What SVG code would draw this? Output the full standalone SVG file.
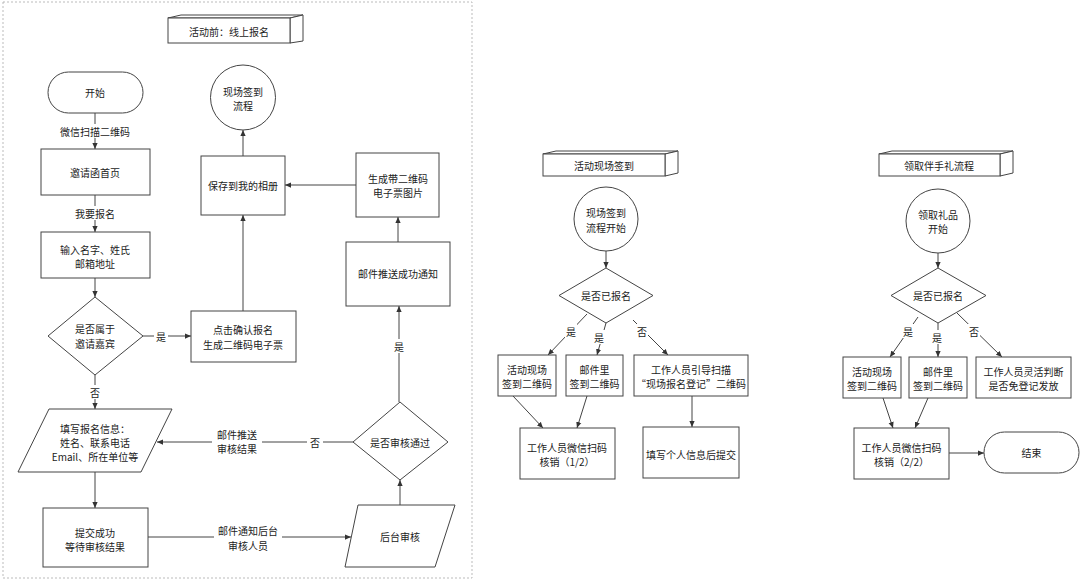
<svg xmlns="http://www.w3.org/2000/svg" width="1080" height="581" viewBox="0 0 1080 581">
<defs>
<marker id="arr" viewBox="0 0 8 8" refX="8" refY="4" markerWidth="6" markerHeight="6" orient="auto" markerUnits="userSpaceOnUse">
<path d="M0,0.5 L8,4 L0,7.5 Z" fill="#333"/>
</marker>
<style>
.n{fill:#fff;stroke:#444;stroke-width:1}
.t{font-family:"Noto Sans CJK SC","Liberation Sans",sans-serif;font-size:10px;fill:#222;text-anchor:middle;dominant-baseline:central}
.c{fill:none;stroke:#444;stroke-width:1;marker-end:url(#arr)}
.cl{fill:none;stroke:#444;stroke-width:1}
.bg{fill:#fff;stroke:none}
</style>
</defs>
<rect width="1080" height="581" fill="#fff"/>
<rect x="3" y="2" width="469" height="576" fill="none" stroke="#bbb" stroke-width="1" stroke-dasharray="2,2"/>

<g id="connectors">
<path class="c" d="M95,113 V149"/>
<path class="c" d="M95,195 V232"/>
<path class="c" d="M95,278 V297"/>
<path class="c" d="M95,375 V409"/>
<path class="c" d="M143,336 H191"/>
<path class="c" d="M243,311 V215"/>
<path class="c" d="M243,156 V130"/>
<path class="c" d="M356,185 H285"/>
<path class="c" d="M398,242 V217"/>
<path class="c" d="M399,402 V306"/>
<path class="c" d="M353,442 H157"/>
<path class="c" d="M95,472 V508"/>
<path class="c" d="M148,537 H351"/>
<path class="c" d="M400,505 V480"/>

<path class="c" d="M606,251 V268"/>
<path class="c" d="M587,314 L548,355"/>
<path class="c" d="M606,323 L597,355"/>
<path class="c" d="M633,320 L668,355"/>
<path class="c" d="M513,396 L543,428"/>
<path class="c" d="M587,396 L577,428"/>
<path class="c" d="M692,396 V427"/>

<path class="c" d="M938,253 V268"/>
<path class="c" d="M918,317 L890,357"/>
<path class="c" d="M938,323 V357"/>
<path class="c" d="M957,313 L1002,357"/>
<path class="c" d="M883,398 L893,428"/>
<path class="c" d="M928,398 L915,428"/>
<path class="c" d="M949,453 H984"/>

<rect class="bg" x="58" y="124" width="74" height="14"/>
<text class="t" x="95" y="131">微信扫描二维码</text>
<rect class="bg" x="73" y="206" width="44" height="14"/>
<text class="t" x="95" y="213">我要报名</text>
<rect class="bg" x="89" y="385" width="12" height="14"/>
<text class="t" x="95" y="392">否</text>
<rect class="bg" x="154" y="329" width="14" height="14"/>
<text class="t" x="161" y="336">是</text>
<rect class="bg" x="393" y="339" width="13" height="14"/>
<text class="t" x="399" y="346">是</text>
<rect class="bg" x="307" y="435" width="16" height="14"/>
<text class="t" x="315" y="442">否</text>
<rect class="bg" x="212" y="427" width="50" height="28"/>
<text class="t" x="237" y="434">邮件推送</text>
<text class="t" x="237" y="448">审核结果</text>
<rect class="bg" x="214" y="523" width="68" height="28"/>
<text class="t" x="248" y="530">邮件通知后台</text>
<text class="t" x="248" y="545">审核人员</text>

<rect class="bg" x="565" y="324" width="12" height="14"/>
<text class="t" x="571" y="331">是</text>
<rect class="bg" x="593" y="330" width="12" height="14"/>
<text class="t" x="599" y="337">是</text>
<rect class="bg" x="636" y="324" width="12" height="14"/>
<text class="t" x="642" y="331">否</text>

<rect class="bg" x="902" y="324" width="12" height="14"/>
<text class="t" x="908" y="331">是</text>
<rect class="bg" x="931" y="330" width="12" height="14"/>
<text class="t" x="937" y="337">是</text>
<rect class="bg" x="968" y="324" width="12" height="14"/>
<text class="t" x="974" y="331">否</text>
</g>

<g id="title-left">
<path class="n" d="M168,18 L181,15 L303,15 L290,18 Z"/>
<path class="n" d="M290,18 L303,15 L303,41 L290,43 Z"/>
<rect class="n" x="168" y="18" width="122" height="25"/>
<text class="t" x="229" y="31">活动前：线上报名</text>
</g>
<g id="start">
<rect class="n" x="48" y="72" width="95" height="41" rx="20.5"/>
<text class="t" x="95" y="92.5">开始</text>
</g>
<g id="invite-home">
<rect class="n" x="41" y="149" width="109" height="46" stroke="#888"/>
<text class="t" x="95" y="172">邀请函首页</text>
</g>
<g id="input-name">
<rect class="n" x="41" y="232" width="109" height="46"/>
<text class="t" x="95" y="249">输入名字、姓氏</text>
<text class="t" x="95" y="263">邮箱地址</text>
</g>
<g id="is-guest">
<path class="n" d="M95,297 L143,336 L95,375 L48,336 Z" stroke="#666"/>
<text class="t" x="95" y="328">是否属于</text>
<text class="t" x="95" y="343">邀请嘉宾</text>
</g>
<g id="confirm">
<rect class="n" x="191" y="311" width="105" height="51"/>
<text class="t" x="243" y="329">点击确认报名</text>
<text class="t" x="243" y="344">生成二维码电子票</text>
</g>
<g id="save-album">
<rect class="n" x="201" y="156" width="84" height="59"/>
<text class="t" x="243" y="185">保存到我的相册</text>
</g>
<g id="onsite-link">
<circle class="n" cx="243" cy="97.5" r="32.5"/>
<text class="t" x="243" y="91">现场签到</text>
<text class="t" x="243" y="105">流程</text>
</g>
<g id="gen-ticket">
<rect class="n" x="356" y="153" width="83" height="64"/>
<text class="t" x="398" y="178">生成带二维码</text>
<text class="t" x="398" y="192">电子票图片</text>
</g>
<g id="mail-success">
<rect class="n" x="346" y="242" width="104" height="64"/>
<text class="t" x="398" y="273">邮件推送成功通知</text>
</g>
<g id="review-pass">
<path class="n" d="M400,402 L448,442 L400,480 L353,442 Z"/>
<text class="t" x="400" y="442">是否审核通过</text>
</g>
<g id="fill-info">
<path class="n" d="M49,409 L172,409 L141,472 L18,472 Z" stroke="#666"/>
<text class="t" x="95" y="428">填写报名信息：</text>
<text class="t" x="95" y="442">姓名、联系电话</text>
<text class="t" x="95" y="456">Email、所在单位等</text>
</g>
<g id="submitted">
<rect class="n" x="43" y="508" width="105" height="59" stroke="#666"/>
<text class="t" x="95" y="532">提交成功</text>
<text class="t" x="95" y="546">等待审核结果</text>
</g>
<g id="backend-review">
<path class="n" d="M358,505 L455,505 L435,567 L345,567 Z"/>
<text class="t" x="400" y="536">后台审核</text>
</g>

<g id="title-mid">
<path class="n" d="M543,154 L556,151 L678,151 L665,154 Z"/>
<path class="n" d="M665,154 L678,151 L678,173 L665,176 Z"/>
<rect class="n" x="543" y="154" width="122" height="22"/>
<text class="t" x="604" y="165">活动现场签到</text>
</g>
<g id="mid-start">
<circle class="n" cx="606" cy="219" r="32"/>
<text class="t" x="606" y="212">现场签到</text>
<text class="t" x="606" y="227">流程开始</text>
</g>
<g id="mid-registered">
<path class="n" d="M606,268 L653,295.5 L606,323 L559,295.5 Z"/>
<text class="t" x="606" y="295">是否已报名</text>
</g>
<g id="mid-qr-site">
<rect class="n" x="498" y="355" width="58" height="41"/>
<text class="t" x="527" y="369">活动现场</text>
<text class="t" x="527" y="383">签到二维码</text>
</g>
<g id="mid-qr-mail">
<rect class="n" x="566" y="355" width="57" height="41"/>
<text class="t" x="594.5" y="369">邮件里</text>
<text class="t" x="594.5" y="383">签到二维码</text>
</g>
<g id="mid-guide">
<rect class="n" x="634" y="355" width="114" height="41"/>
<text class="t" x="691" y="369">工作人员引导扫描</text>
<text class="t" x="691" y="383">“现场报名登记”二维码</text>
</g>
<g id="mid-verify">
<rect class="n" x="520" y="428" width="95" height="51"/>
<text class="t" x="567" y="447">工作人员微信扫码</text>
<text class="t" x="567" y="461">核销（1/2）</text>
</g>
<g id="mid-fill">
<rect class="n" x="643" y="427" width="96" height="51"/>
<text class="t" x="691" y="454">填写个人信息后提交</text>
</g>

<g id="title-right">
<path class="n" d="M879,154 L892,151 L1013,151 L1000,154 Z"/>
<path class="n" d="M1000,154 L1013,151 L1013,173 L1000,176 Z"/>
<rect class="n" x="879" y="154" width="121" height="22"/>
<text class="t" x="939" y="165">领取伴手礼流程</text>
</g>
<g id="right-start">
<circle class="n" cx="938" cy="221" r="32"/>
<text class="t" x="938" y="214">领取礼品</text>
<text class="t" x="938" y="228">开始</text>
</g>
<g id="right-registered">
<path class="n" d="M938,268 L986,295.5 L938,323 L891,295.5 Z"/>
<text class="t" x="938" y="295">是否已报名</text>
</g>
<g id="right-qr-site">
<rect class="n" x="843" y="357" width="58" height="41"/>
<text class="t" x="872" y="371">活动现场</text>
<text class="t" x="872" y="385">签到二维码</text>
</g>
<g id="right-qr-mail">
<rect class="n" x="909" y="357" width="58" height="41"/>
<text class="t" x="938" y="371">邮件里</text>
<text class="t" x="938" y="385">签到二维码</text>
</g>
<g id="right-flex">
<rect class="n" x="976" y="357" width="95" height="41"/>
<text class="t" x="1023.5" y="371">工作人员灵活判断</text>
<text class="t" x="1023.5" y="385">是否免登记发放</text>
</g>
<g id="right-verify">
<rect class="n" x="854" y="428" width="95" height="51"/>
<text class="t" x="901.5" y="447">工作人员微信扫码</text>
<text class="t" x="901.5" y="461">核销（2/2）</text>
</g>
<g id="end">
<rect class="n" x="984" y="432" width="95" height="41" rx="20.5"/>
<text class="t" x="1031.5" y="452.5">结束</text>
</g>
</svg>
